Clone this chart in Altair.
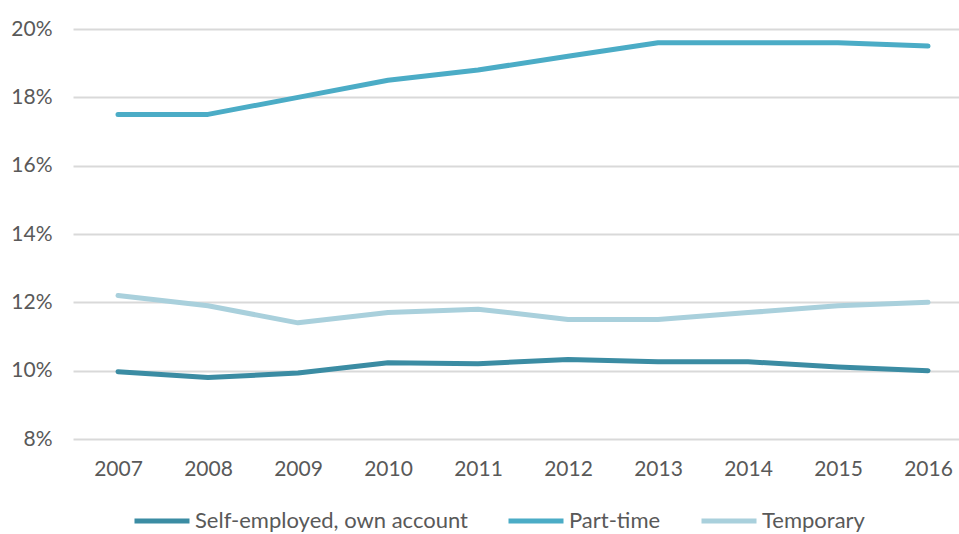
import altair as alt
import pandas as pd

years = [2007, 2008, 2009, 2010, 2011, 2012, 2013, 2014, 2015, 2016]
self_employed = [0.0997, 0.098, 0.0993, 0.1023, 0.1020, 0.1033, 0.1026, 0.1026, 0.1011, 0.1000]
part_time = [0.175, 0.175, 0.180, 0.185, 0.188, 0.192, 0.196, 0.196, 0.196, 0.195]
temporary = [0.122, 0.119, 0.114, 0.117, 0.118, 0.115, 0.115, 0.117, 0.119, 0.120]
series_names = ["Self-employed, own account", "Part-time", "Temporary"]
series_colors = ["#3b8ca3", "#4bacc6", "#a9d0dc"]
y_ticks = [0.08, 0.10, 0.12, 0.14, 0.16, 0.18, 0.20]

rows = []
for name, vals in zip(series_names, [self_employed, part_time, temporary]):
    for yr, v in zip(years, vals):
        rows.append({"year": yr, "value": v, "series": name})
df = pd.DataFrame(rows)

FONT = "Lato"

chart = (
    alt.Chart(df)
    .mark_line(strokeWidth=5, strokeCap="round", strokeJoin="round")
    .encode(
        x=alt.X(
            "year:Q",
            scale=alt.Scale(domain=[2006.5, 2016.344], nice=False, zero=False),
            axis=alt.Axis(
                values=years,
                format="d",
                title=None,
                grid=False,
                domain=False,
                ticks=False,
                labelPadding=19,
                labelFontSize=21,
                labelFont=FONT,
                labelColor="#595959",
            ),
        ),
        y=alt.Y(
            "value:Q",
            scale=alt.Scale(domain=[0.08, 0.20], nice=False, zero=False),
            axis=alt.Axis(
                values=y_ticks,
                format=".0%",
                title=None,
                domain=False,
                ticks=False,
                labelPadding=21,
                labelFontSize=21,
                labelFont=FONT,
                labelColor="#595959",
                gridColor="#d9d9d9",
                gridWidth=2,
            ),
        ),
        color=alt.Color(
            "series:N",
            scale=alt.Scale(domain=series_names, range=series_colors),
            sort=series_names,
            legend=alt.Legend(
                title=None,
                orient="none",
                direction="horizontal",
                legendX=59,
                legendY=462,
                symbolType="stroke",
                symbolSize=3025,
                symbolStrokeWidth=5,
                labelFontSize=22,
                labelFont=FONT,
                labelColor="#595959",
                labelLimit=400,
                labelOffset=3,
                columnPadding=30,
            ),
        ),
    )
    .properties(
        width=886,
        height=410,
        autosize=alt.AutoSizeParams(type="none"),
        padding={"left": 73, "top": 29, "right": 0, "bottom": 95},
    )
    .configure_view(stroke=None)
)

chart.save("out.html", embed_options={"renderer": "svg", "actions": False})
